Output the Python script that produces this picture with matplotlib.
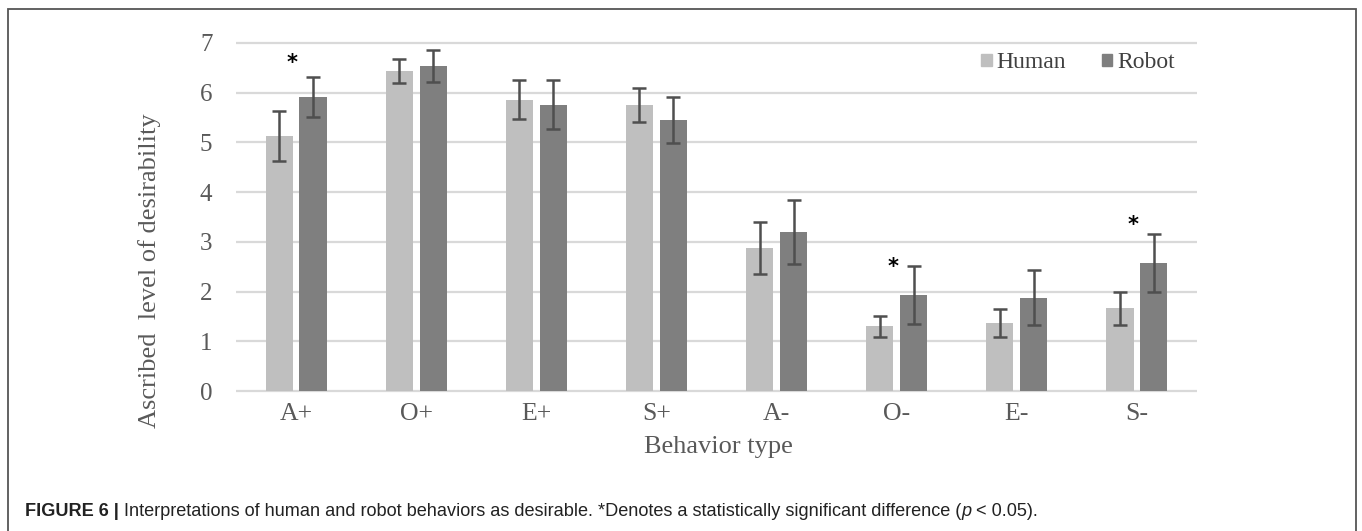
import numpy as np
import matplotlib
matplotlib.use("Agg")
import matplotlib.pyplot as plt
from matplotlib.patches import Patch, Rectangle

# values
categories = ["A+", "O+", "E+", "S+", "A-", "O-", "E-", "S-"]
human_mean = [5.13, 6.44, 5.86, 5.75, 2.88, 1.30, 1.36, 1.66]
human_err = [0.50, 0.24, 0.39, 0.34, 0.52, 0.21, 0.28, 0.34]
robot_mean = [5.91, 6.54, 5.76, 5.45, 3.20, 1.93, 1.88, 2.58]
robot_err = [0.40, 0.32, 0.50, 0.47, 0.65, 0.58, 0.56, 0.58]
# significant differences: (category index, height of the star)
stars = [(0, 6.6), (5, 2.5), (7, 3.33)]

W, H = 1362, 531
fig = plt.figure(figsize=(W / 100, H / 100), dpi=100)
serif = "Liberation Serif"
gray_txt = "#595959"

def px(x, y):
    return x / W, 1 - y / H

# axes placed from pixel measurements
x0, x1 = 236, 1197
ytop, ybot = 38, 393.5
ax = fig.add_axes([x0 / W, 1 - ybot / H, (x1 - x0) / W, (ybot - ytop) / H])

x = np.arange(len(categories))
bw = 0.225
off = 0.141
err_kw = dict(ecolor="#4f4f4f", elinewidth=1.8, capsize=4.8, capthick=1.8)
ax.bar(x - off, human_mean, bw, color="#bfbfbf", yerr=human_err,
       error_kw=err_kw, zorder=3, label="Human")
ax.bar(x + off, robot_mean, bw, color="#7f7f7f", yerr=robot_err,
       error_kw=err_kw, zorder=3, label="Robot")

for i, h in stars:
    ax.text(i - 0.03, h, "*", ha="center", va="center", fontsize=15,
            fontweight="bold", color="black", family="DejaVu Sans", zorder=4)

ax.set_xlim(-0.5, 7.5)
ax.set_ylim(-0.05, 7.1)
ax.set_yticks(range(8))
ax.set_xticks(x)
ax.set_xticklabels(categories)
ax.yaxis.grid(True, color="#d9d9d9", linewidth=1.6, zorder=0)
ax.set_axisbelow(True)
for s in ax.spines.values():
    s.set_visible(False)
ax.tick_params(length=0, colors=gray_txt)
ax.tick_params(axis="y", pad=17, labelsize=18)
ax.tick_params(axis="x", pad=7, labelsize=18.5)
for t in ax.get_xticklabels() + ax.get_yticklabels():
    t.set_family(serif)

handles = [Patch(color="#bfbfbf", label="Human"), Patch(color="#7f7f7f", label="Robot")]
leg = fig.legend(handles=handles, loc="center", bbox_to_anchor=px(1078, 63),
                 ncol=2, frameon=False, handlelength=0.45, handleheight=0.45,
                 handletextpad=0.2, columnspacing=1.5,
                 prop={"family": serif, "size": 17})
for t in leg.get_texts():
    t.set_color("#404040")

fig.text(*px(718, 447), "Behavior type", ha="center", va="center",
         family=serif, fontsize=19, color=gray_txt)
fig.text(*px(150, 271), "Ascribed  level of desirability", ha="center",
         va="center", rotation=90, family=serif, fontsize=19, color=gray_txt)

# outer frame
fig.add_artist(Rectangle(px(8, 600), (1356 - 8) / W, (600 - 9) / H,
                         transform=fig.transFigure, fill=False,
                         edgecolor="#555555", linewidth=1.3))

# caption with mixed styles, chained left to right
parts = [("FIGURE 6 | ", "bold", "normal"),
         ("Interpretations of human and robot behaviors as desirable. *Denotes a "
          "statistically significant difference (", "normal", "normal"),
         ("p", "normal", "italic"),
         (" < 0.05).", "normal", "normal")]
fig.canvas.draw()
r = fig.canvas.get_renderer()
cx, cy = px(25, 511)
for txt, wt, st in parts:
    t = fig.text(cx, cy, txt, ha="left", va="center", fontsize=13.1,
                 family="Liberation Sans", fontweight=wt, style=st,
                 color="#222222")
    bb = t.get_window_extent(renderer=r)
    cx = bb.x1 / W

fig.savefig("out.png", dpi=100)
